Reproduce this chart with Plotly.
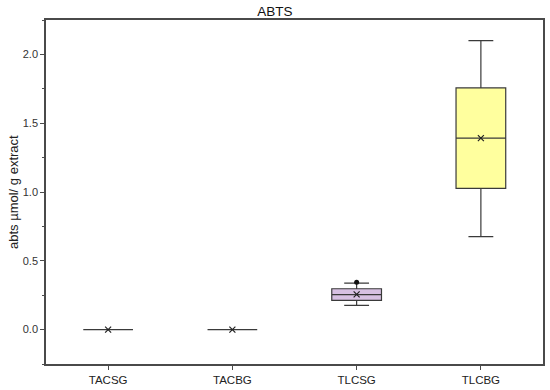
import plotly.graph_objects as go

categories = ["TACSG", "TACBG", "TLCSG", "TLCBG"]
q1 = [0.0, 0.0, 0.212, 1.027]
median = [0.0, 0.0, 0.254, 1.391]
q3 = [0.0, 0.0, 0.297, 1.756]
lower = [0.0, 0.0, 0.176, 0.676]
upper = [0.0, 0.0, 0.338, 2.10]
means = [0.0, 0.0, 0.256, 1.391]
fills = ["#c8c8c8", "#c8c8c8", "#d7c0e2", "#ffff9e"]
outlier_cat = ["TLCSG"]
outlier_val = [0.345]

fig = go.Figure()
for i, c in enumerate(categories):
    fig.add_trace(go.Box(
        x=[c], q1=[q1[i]], median=[median[i]], q3=[q3[i]],
        lowerfence=[lower[i]], upperfence=[upper[i]],
        fillcolor=fills[i], line=dict(color="#3a3a3a", width=1.2),
        width=0.4, whiskerwidth=0.5, boxpoints=False, showlegend=False,
    ))

fig.add_trace(go.Scatter(
    x=categories, y=means, mode="markers", showlegend=False,
    marker=dict(symbol="x-thin", size=6, line=dict(color="#222", width=1.2)),
))
fig.add_trace(go.Scatter(
    x=outlier_cat, y=outlier_val, mode="markers", showlegend=False,
    marker=dict(symbol="circle", size=5, color="#111"),
))

fig.update_layout(
    width=550, height=390,
    margin=dict(l=46, r=7, t=20, b=26, autoexpand=False),
    paper_bgcolor="white", plot_bgcolor="white",
    font=dict(family="Liberation Sans, Arial, sans-serif", size=11, color="#222"),
    title=dict(text="ABTS", x=0.5, xanchor="center", y=1 - 11.5 / 390, yanchor="middle",
               font=dict(size=13.5, color="#111")),
)
fig.update_xaxes(
    type="category", range=[-0.5, 3.5], showgrid=False, zeroline=False,
    showline=True, linecolor="#4a4a4a", linewidth=1.5, mirror=True,
    ticks="outside", ticklen=4, tickcolor="#4a4a4a", automargin=False,
    tickfont=dict(size=11.5, color="#222"),
)
fig.update_yaxes(
    range=[-0.25, 2.25], dtick=0.5, tickformat=".1f", showgrid=False, zeroline=False,
    showline=True, linecolor="#4a4a4a", linewidth=1.5, mirror=True,
    ticks="outside", ticklen=4, tickcolor="#4a4a4a", automargin=False,
    minor=dict(dtick=0.25, ticks="outside", ticklen=2, tickcolor="#4a4a4a"),
    tickfont=dict(size=11, color="#333"),
)
fig.add_annotation(
    text="abts µmol/ g extract", xref="paper", yref="paper",
    x=-46 / 497 + 13 / 497, y=0.5, xanchor="center", yanchor="middle",
    textangle=-90, showarrow=False, font=dict(size=13, color="#222"),
)

fig.write_html("out.html", config={"displayModeBar": False},
               post_script="document.body.style.margin='0';")
